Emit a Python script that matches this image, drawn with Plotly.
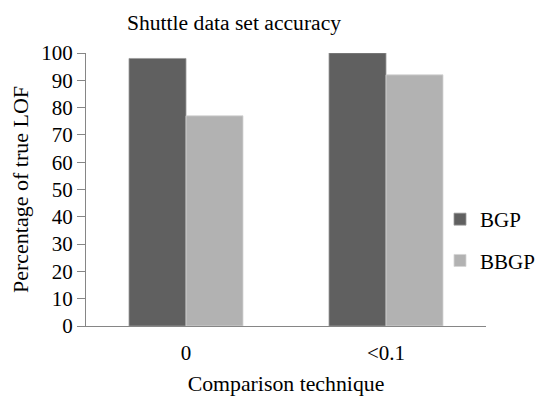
import plotly.graph_objects as go

categories = ["0", "<0.1"]
bgp = [98, 100]
bbgp = [77, 92]
series_names = ["BGP", "BBGP"]
y_ticks = [0, 10, 20, 30, 40, 50, 60, 70, 80, 90, 100]

FONT = "Times New Roman, Liberation Serif, DejaVu Serif, serif"
AXIS = "#868686"

fig = go.Figure()
fig.add_trace(go.Bar(x=categories, y=bgp, name=series_names[0], legendgroup="a",
                     marker=dict(color="#606060", line=dict(color="#9a9a9a", width=0.8))))
fig.add_trace(go.Bar(x=categories, y=bbgp, name=series_names[1], legendgroup="b",
                     marker=dict(color="#b2b2b2", line=dict(color="#d4d4d4", width=0.8))))

fig.update_layout(
    width=538, height=396,
    margin=dict(l=86, r=52, t=53, b=70, autoexpand=False),
    paper_bgcolor="white", plot_bgcolor="white",
    font=dict(family=FONT, size=21, color="black"),
    barmode="group", bargap=0.43, bargroupgap=0,
    title=dict(text="Shuttle data set accuracy", font=dict(family=FONT, size=21.6, color="black"),
               x=127/538, xanchor="left", xref="container",
               y=1-22/396, yanchor="middle", yref="container"),
    showlegend=True,
    legend=dict(x=(440-86)/400, xanchor="left", y=(326-240)/273, yanchor="middle",
                font=dict(family=FONT, size=21, color="black"),
                tracegroupgap=11, traceorder="grouped", bgcolor="rgba(0,0,0,0)"),
)
fig.update_xaxes(
    showline=True, linecolor=AXIS, linewidth=1, ticks="", showgrid=False,
    tickfont=dict(family=FONT, size=21, color="black"), ticklabelstandoff=8,
    title=dict(text="Comparison technique", font=dict(family=FONT, size=21.8, color="black"), standoff=15),
)
fig.update_yaxes(
    range=[0, 100], tickvals=y_ticks, showline=True, linecolor=AXIS, linewidth=1,
    ticks="outside", ticklen=8, tickcolor=AXIS, showgrid=False, zeroline=False,
    tickfont=dict(family=FONT, size=21, color="black"),
    title=dict(text="Percentage of true LOF", font=dict(family=FONT, size=22, color="black"), standoff=6),
)

fig.write_html("out.html")
